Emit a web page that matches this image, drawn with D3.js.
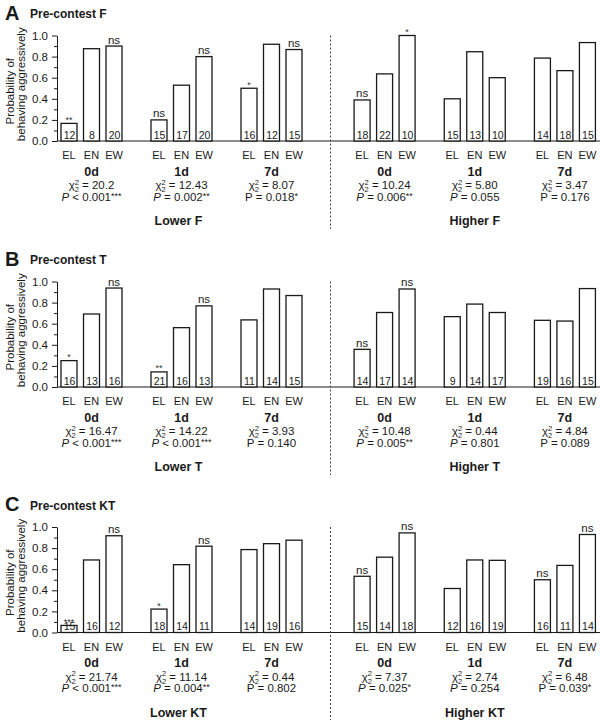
<!DOCTYPE html>
<html>
<head>
<meta charset="utf-8">
<script src="https://cdn.jsdelivr.net/npm/d3@7"></script>
<style>
  html, body { margin: 0; padding: 0; background: #fff; }
  svg { display: block; font-family: "Liberation Sans", Arial, Helvetica, sans-serif; }
</style>
</head>
<body>
<svg id="chart" width="600" height="720"></svg>
<script>
// ---------- data ----------
const panelLetters = ["A", "B", "C"];
const panelTitles = ["Pre-contest F", "Pre-contest T", "Pre-contest KT"];
const sideLabels = [["Lower F", "Higher F"], ["Lower T", "Higher T"], ["Lower KT", "Higher KT"]];
const days = ["0d", "1d", "7d"];
const categories = ["EL", "EN", "EW"];
const yTicks = [0, 0.2, 0.4, 0.6, 0.8, 1.0];

// probability values: 6 groups (Lower 0d,1d,7d, Higher 0d,1d,7d) x EL,EN,EW
const valuesA = [0.167, 0.875, 0.90, 0.20, 0.529, 0.80, 0.50, 0.917, 0.867,
                 0.389, 0.636, 1.00, 0.40, 0.846, 0.60, 0.786, 0.667, 0.933];
const valuesB = [0.25, 0.692, 0.938, 0.143, 0.5625, 0.769, 0.636, 0.929, 0.867,
                 0.357, 0.706, 0.929, 0.667, 0.786, 0.706, 0.632, 0.625, 0.933];
const valuesC = [0.067, 0.6875, 0.917, 0.222, 0.643, 0.818, 0.786, 0.842, 0.875,
                 0.533, 0.714, 0.944, 0.417, 0.6875, 0.684, 0.50, 0.636, 0.929];

const nA = [12, 8, 20, 15, 17, 20, 16, 12, 15, 18, 22, 10, 15, 13, 10, 14, 18, 15];
const nB = [16, 13, 16, 21, 16, 13, 11, 14, 15, 14, 17, 14, 9, 14, 17, 19, 16, 15];
const nC = [15, 16, 12, 18, 14, 11, 14, 19, 16, 15, 14, 18, 12, 16, 19, 16, 11, 14];

const sigA = ["**", "", "ns", "ns", "", "ns", "*", "", "ns", "ns", "", "*", "", "", "", "", "", ""];
const sigB = ["*", "", "ns", "**", "", "ns", "", "", "", "ns", "", "ns", "", "", "", "", "", ""];
const sigC = ["***", "", "ns", "*", "", "ns", "", "", "", "ns", "", "ns", "", "", "", "ns", "", "ns"];

const chiA = ["20.2", "12.43", "8.07", "10.24", "5.80", "3.47"];
const chiB = ["16.47", "14.22", "3.93", "10.48", "0.44", "4.84"];
const chiC = ["21.74", "11.14", "0.44", "7.37", "2.74", "6.48"];

const pCmpA = ["<", "=", "=", "=", "=", "="];
const pValA = ["0.001", "0.002", "0.018", "0.006", "0.055", "0.176"];
const pStarA = ["***", "**", "*", "**", "", ""];
const pCmpB = ["<", "<", "=", "=", "=", "="];
const pValB = ["0.001", "0.001", "0.140", "0.005", "0.801", "0.089"];
const pStarB = ["***", "***", "", "**", "", ""];
const pCmpC = ["<", "=", "=", "=", "=", "="];
const pValC = ["0.001", "0.004", "0.802", "0.025", "0.254", "0.039"];
const pStarC = ["***", "**", "", "*", "", "*"];
const pItalic = [true, true, false, true, true, false];

const panelValues = [valuesA, valuesB, valuesC];
const panelN = [nA, nB, nC];
const panelSig = [sigA, sigB, sigC];
const panelChi = [chiA, chiB, chiC];
const panelPCmp = [pCmpA, pCmpB, pCmpC];
const panelPVal = [pValA, pValB, pValC];
const panelPStar = [pStarA, pStarB, pStarC];

// ---------- layout ----------
const svg = d3.select("#chart");
const ink = "#1a1a1a";
const axisX = 57;
const panelTop = [35.5, 281.5, 527];
const plotH = 105.5;

// group scales for lower / higher sides
const xLower = d3.scaleBand().domain(days).range([46.5, 316.5]).padding(0);
const xHigher = d3.scaleBand().domain(days).range([339.5, 610]).padding(0);
const xInner = d3.scaleBand().domain(categories).range([-30.5, 30.5]).paddingInner(0.289).paddingOuter(0);

function groupCenter(gi) {
  const sc = gi < 3 ? xLower : xHigher;
  const d = days[gi % 3];
  return sc(d) + sc.bandwidth() / 2;
}

panelLetters.forEach((letter, pi) => {
  const top = panelTop[pi];
  const base = top + plotH;
  const y = d3.scaleLinear().domain([0, 1]).range([base, top]);
  const g = svg.append("g");
  const vals = panelValues[pi];

  // title
  g.append("text").attr("x", 5).attr("y", top - 16)
    .attr("font-size", 20).attr("font-weight", "bold").attr("fill", ink).text(letter);
  g.append("text").attr("x", 30).attr("y", top - 17.5)
    .attr("font-size", 12).attr("font-weight", "bold").attr("fill", ink).text(panelTitles[pi]);

  // y label
  const mid = (top + base) / 2;
  g.append("text").attr("transform", `translate(13.5,${mid + 3}) rotate(-90)`)
    .attr("text-anchor", "middle").attr("font-size", 11.5).attr("fill", ink).text("Probability of");
  g.append("text").attr("transform", `translate(24.5,${mid - 4}) rotate(-90)`)
    .attr("text-anchor", "middle").attr("font-size", 11.5).attr("fill", ink).text("behaving aggressively");

  // minor ticks
  const minor = d3.range(0.1, 1.0, 0.2);
  g.append("g").attr("transform", `translate(${axisX},0)`)
    .call(d3.axisLeft(y).tickValues(minor).tickSize(3).tickFormat(""))
    .call(s => s.select(".domain").remove())
    .call(s => s.selectAll("line").attr("stroke", ink));
  // major axis
  g.append("g").attr("transform", `translate(${axisX},0)`)
    .call(d3.axisLeft(y).tickValues(yTicks).tickSize(5).tickSizeOuter(0).tickPadding(4).tickFormat(d3.format(".1f")))
    .call(s => s.select(".domain").attr("stroke", ink))
    .call(s => s.selectAll("line").attr("stroke", ink))
    .call(s => s.selectAll("text").attr("font-size", 11.5).attr("fill", ink)
      .attr("font-family", "Liberation Sans, Arial, sans-serif"));

  // baseline
  g.append("line").attr("x1", axisX).attr("x2", 600).attr("y1", y(0)).attr("y2", y(0))
    .attr("stroke", ink).attr("stroke-width", 1.2);

  // divider
  g.append("line").attr("x1", 330.5).attr("x2", 330.5).attr("y1", top).attr("y2", base + 88)
    .attr("stroke", "#444").attr("stroke-width", 1).attr("stroke-dasharray", "2,2");

  // bars
  const barData = vals.map((v, i) => ({
    v, n: panelN[pi][i], sig: panelSig[pi][i],
    gi: Math.floor(i / 3), cat: categories[i % 3]
  }));
  const bars = g.selectAll("g.bar").data(barData).join("g").attr("class", "bar")
    .attr("transform", d => `translate(${groupCenter(d.gi) + xInner(d.cat)},0)`);
  bars.append("rect")
    .attr("x", 0).attr("width", xInner.bandwidth())
    .attr("y", d => y(d.v)).attr("height", d => y(0) - y(d.v))
    .attr("fill", "#fff").attr("stroke", ink).attr("stroke-width", 1.3);
  bars.append("text")
    .attr("x", xInner.bandwidth() / 2 + 0.5).attr("y", y(0) - 2.5)
    .attr("text-anchor", "middle").attr("font-size", 10.5).attr("fill", ink)
    .text(d => d.n);
  bars.filter(d => d.sig).append("text")
    .attr("x", xInner.bandwidth() / 2)
    .attr("y", d => d.sig === "ns" ? y(d.v) - 2.5 : y(d.v) - 0.5)
    .attr("text-anchor", "middle")
    .attr("font-size", d => d.sig === "ns" ? 11.5 : 9)
    .attr("fill", d => d.sig === "ns" ? ink : "#333")
    .text(d => d.sig);

  // category labels
  for (let gi = 0; gi < 6; gi++) {
    const cx = groupCenter(gi);
    categories.forEach(c => {
      g.append("text").attr("x", cx + xInner(c) + xInner.bandwidth() / 2).attr("y", base + 18)
        .attr("text-anchor", "middle").attr("font-size", 11).attr("fill", ink).text(c);
    });
    g.append("text").attr("x", cx).attr("y", base + 34.5)
      .attr("text-anchor", "middle").attr("font-size", 12.5).attr("font-weight", "bold")
      .attr("fill", ink).text(days[gi % 3]);
    // chi-square line
    const chi = g.append("text").attr("x", cx).attr("y", base + 48)
      .attr("text-anchor", "middle").attr("font-size", 11.5).attr("fill", ink);
    chi.append("tspan").text("\u03C7");
    chi.append("tspan").attr("font-size", 7.5).attr("dy", -4.5).text("2");
    chi.append("tspan").attr("font-size", 7.5).attr("dx", -4.2).attr("dy", 7.5).text("2");
    chi.append("tspan").attr("dy", -3).text(" = " + panelChi[pi][gi]);
    // P line
    const p = g.append("text").attr("x", cx).attr("y", base + 59.5)
      .attr("text-anchor", "middle").attr("font-size", 11.5).attr("fill", ink);
    p.append("tspan").attr("font-style", pItalic[gi] ? "italic" : "normal").text("P");
    p.append("tspan").text(" " + panelPCmp[pi][gi] + " " + panelPVal[pi][gi]);
    if (panelPStar[pi][gi]) {
      p.append("tspan").attr("font-size", 9).attr("dy", -2).text(panelPStar[pi][gi]);
    }
  }

  // side labels
  g.append("text").attr("x", groupCenter(1) - 3).attr("y", base + 84)
    .attr("text-anchor", "middle").attr("font-size", 12.5).attr("font-weight", "bold")
    .attr("fill", ink).text(sideLabels[pi][0]);
  g.append("text").attr("x", groupCenter(4)).attr("y", base + 84)
    .attr("text-anchor", "middle").attr("font-size", 12.5).attr("font-weight", "bold")
    .attr("fill", ink).text(sideLabels[pi][1]);
});
</script>
</body>
</html>
